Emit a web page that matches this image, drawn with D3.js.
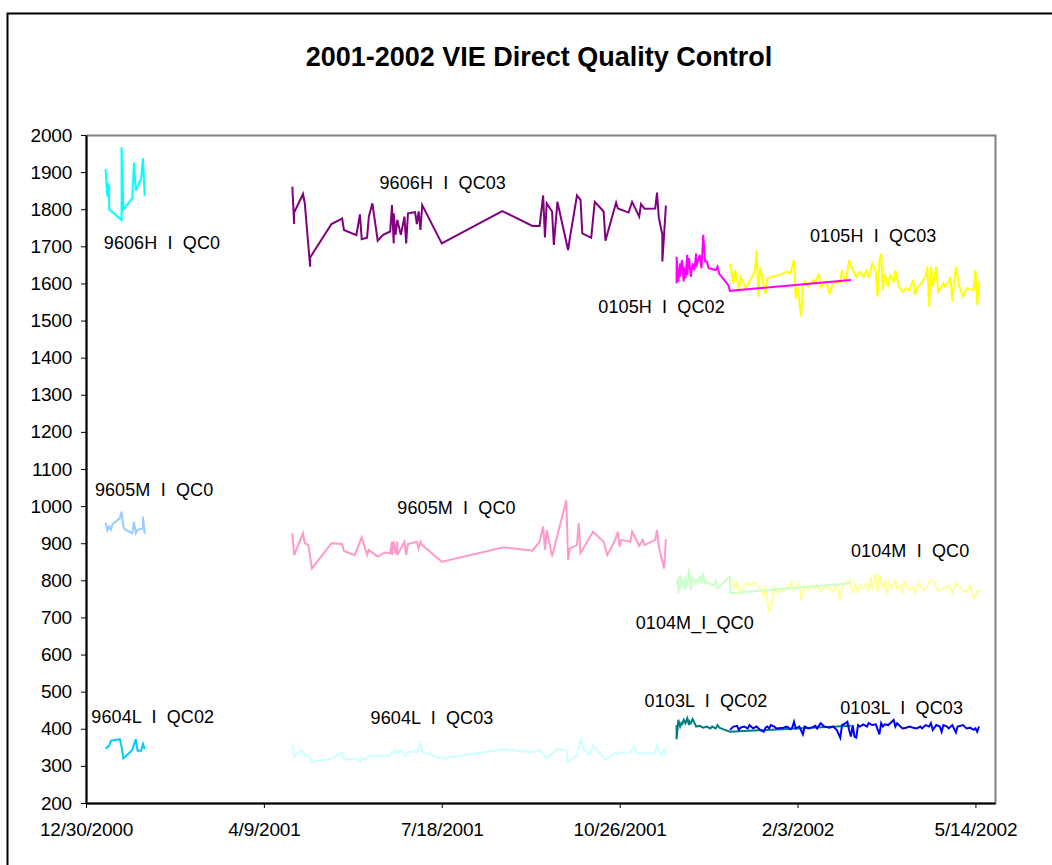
<!DOCTYPE html>
<html>
<head>
<meta charset="utf-8">
<script src="https://cdn.jsdelivr.net/npm/d3@7"></script>
<style>
    body { margin: 0; background: #fff; }
    text { font-family: "Liberation Sans", Arial, sans-serif; }
</style>
</head>
<body>
<div class="qcchart"></div>
<script>
// days counted from 12/30/2000 (first x tick)
const startDate = new Date(2000, 11, 30);
const tickDays = [0, 100, 200, 300, 400, 500];
const yTicks = d3.range(200, 2001, 100);

// high level
const h9606QC0Days = [11, 12, 12, 13, 13, 20, 20, 21, 26, 27, 28, 31, 32, 33];
const h9606QC0Values = [1908, 1834, 1871, 1861, 1800, 1771, 1967, 1800, 1829, 1926, 1850, 1883, 1937, 1836];

const h9606QC03Days = [116, 117, 117, 122, 123, 126, 126, 138, 144, 145, 152, 154, 155, 158, 159, 161, 164, 167, 171, 172,
    173, 173, 174, 175, 177, 179, 180, 181, 185, 186, 187, 188, 189, 200, 234, 251, 255, 257, 258, 259,
    262, 263, 265, 271, 272, 276, 278, 279, 284, 286, 291, 292, 298, 299, 305, 307, 311, 312, 314, 320,
    321, 322, 324, 324, 326];
const h9606QC03Values = [1861, 1760, 1791, 1841, 1816, 1645, 1670, 1760, 1775, 1744, 1730, 1786, 1719, 1723, 1780, 1816, 1715, 1731, 1740, 1811,
    1708, 1789, 1731, 1771, 1731, 1780, 1708, 1789, 1792, 1760, 1794, 1744, 1811, 1708, 1795, 1755, 1755, 1837, 1724, 1816,
    1794, 1704, 1820, 1690, 1722, 1837, 1825, 1735, 1723, 1820, 1794, 1715, 1818, 1802, 1791, 1820, 1780, 1814, 1801, 1802,
    1845, 1778, 1731, 1659, 1810];

const h0105QC02Days = [332, 332, 333, 334, 334, 335, 336, 336, 337, 338, 338, 339, 340, 341, 342, 343, 343, 345, 346, 347,
    348, 349, 350, 354, 355, 356, 361, 362, 430];
const h0105QC02Values = [1600, 1672, 1605, 1654, 1618, 1663, 1605, 1645, 1614, 1677, 1623, 1668, 1618, 1654, 1636, 1681, 1645, 1677, 1641, 1731,
    1659, 1659, 1641, 1636, 1645, 1626, 1596, 1580, 1609];

const h0105QC03Days = [362, 364, 365, 367, 368, 371, 376, 377, 378, 379, 381, 382, 383, 385, 390, 394, 396, 398, 399, 400,
    402, 403, 404, 406, 409, 410, 412, 413, 416, 418, 420, 424, 425, 427, 429, 431, 433, 435, 437, 439,
    440, 442, 444, 445, 446, 447, 448, 449, 451, 452, 454, 455, 457, 459, 461, 463, 465, 466, 467, 468,
    470, 472, 473, 474, 475, 476, 478, 479, 481, 482, 483, 485, 486, 487, 489, 491, 493, 495, 499, 500,
    501, 502];
const h0105QC03Values = [1654, 1600, 1636, 1582, 1618, 1587, 1632, 1690, 1564, 1645, 1596, 1573, 1614, 1617, 1623, 1632, 1627, 1663, 1560, 1591,
    1511, 1591, 1605, 1591, 1609, 1600, 1627, 1591, 1605, 1573, 1600, 1605, 1636, 1600, 1663, 1636, 1618, 1632, 1618, 1636,
    1614, 1654, 1632, 1564, 1663, 1681, 1582, 1627, 1591, 1623, 1605, 1636, 1591, 1578, 1587, 1582, 1609, 1569, 1587, 1591,
    1605, 1618, 1645, 1537, 1645, 1591, 1645, 1578, 1591, 1600, 1591, 1605, 1618, 1551, 1645, 1591, 1564, 1587, 1582, 1636,
    1542, 1605];

// medium level
const m9605LeftDays = [11, 12, 13, 14, 15, 19, 20, 21, 22, 26, 27, 28, 29, 32, 32, 33];
const m9605LeftValues = [955, 934, 945, 937, 952, 967, 985, 945, 937, 927, 958, 927, 936, 940, 972, 925];

const m9605Days = [116, 117, 122, 123, 125, 127, 138, 144, 145, 151, 155, 158, 159, 164, 168, 171, 172, 172, 173, 174,
    175, 175, 179, 180, 181, 186, 187, 188, 189, 200, 235, 251, 255, 257, 258, 259, 262, 270, 271, 272,
    276, 277, 278, 285, 291, 293, 297, 299, 300, 301, 306, 307, 311, 313, 314, 320, 321, 322, 325, 326];
const m9605Values = [927, 868, 927, 900, 895, 832, 900, 898, 879, 868, 916, 868, 882, 864, 875, 873, 904, 868, 904, 873,
    904, 868, 904, 868, 898, 904, 886, 904, 895, 850, 889, 880, 904, 945, 882, 936, 864, 1016, 855, 886,
    895, 954, 873, 931, 904, 868, 904, 931, 891, 909, 904, 931, 893, 909, 895, 909, 936, 891, 832, 911];

const m0104QC0aDays = [332, 333, 333, 334, 334, 335, 336, 336, 337, 337, 338, 339, 340, 341, 342, 343, 344, 345, 346, 347,
    348, 349, 350, 353, 354, 355, 362, 362, 430];
const m0104QC0aValues = [787, 810, 765, 814, 778, 805, 783, 801, 774, 810, 783, 832, 774, 810, 792, 801, 796, 814, 792, 819,
    792, 796, 792, 787, 799, 778, 810, 765, 792];

const m0104QC0bDays = [363, 365, 366, 368, 370, 371, 374, 376, 377, 380, 381, 382, 384, 386, 387, 389, 391, 392, 394, 396,
    397, 398, 401, 402, 404, 406, 408, 410, 411, 413, 415, 418, 420, 422, 424, 425, 426, 429, 431, 432,
    434, 435, 437, 439, 440, 441, 442, 443, 444, 445, 446, 448, 449, 450, 451, 453, 455, 456, 458, 459,
    460, 461, 463, 465, 466, 468, 470, 471, 473, 475, 477, 479, 480, 482, 485, 487, 489, 492, 495, 497,
    499, 501, 503];
const m0104QC0bValues = [805, 778, 792, 765, 783, 792, 787, 796, 787, 774, 756, 783, 713, 751, 783, 765, 778, 769, 783, 778,
    801, 774, 792, 747, 783, 774, 787, 778, 787, 769, 783, 778, 769, 787, 747, 778, 792, 801, 765, 792,
    769, 787, 778, 792, 769, 810, 774, 801, 819, 769, 814, 778, 801, 760, 796, 778, 801, 778, 787, 765,
    801, 787, 774, 783, 765, 792, 778, 774, 787, 801, 796, 769, 774, 778, 787, 765, 792, 778, 769, 787,
    751, 769, 774];

// low level
const l9604QC02Days = [11, 13, 14, 19, 20, 21, 26, 28, 29, 31, 32, 33];
const l9604QC02Values = [347, 354, 368, 372, 352, 320, 343, 372, 341, 341, 359, 345];

const l9604QC03Days = [116, 117, 121, 122, 123, 125, 127, 138, 144, 145, 151, 154, 155, 157, 159, 171, 172, 173, 174, 175,
    177, 179, 181, 186, 188, 189, 200, 235, 251, 255, 259, 262, 265, 270, 271, 276, 278, 280, 283, 285,
    292, 297, 299, 300, 306, 308, 310, 313, 320, 321, 323, 324, 325, 326];
const l9604QC03Values = [356, 325, 343, 334, 329, 329, 311, 320, 336, 316, 320, 311, 323, 316, 327, 327, 338, 334, 343, 334,
    343, 327, 338, 338, 361, 338, 320, 345, 336, 343, 320, 334, 345, 343, 311, 327, 370, 343, 329, 356,
    316, 334, 329, 336, 336, 352, 334, 334, 334, 356, 329, 334, 345, 327];

const l0103QC02Days = [332, 332, 333, 334, 335, 335, 336, 337, 338, 339, 339, 340, 341, 343, 345, 347, 349, 351, 352, 354,
    355, 356, 358, 362, 430];
const l0103QC02Values = [410, 372, 424, 406, 419, 410, 424, 415, 428, 410, 421, 415, 426, 406, 408, 403, 406, 401, 406, 401,
    410, 403, 399, 392, 408];

const l0103QC03Days = [362, 364, 366, 367, 368, 370, 372, 373, 375, 377, 379, 381, 382, 383, 384, 385, 387, 388, 392, 394,
    396, 397, 398, 399, 401, 403, 404, 406, 408, 410, 411, 413, 415, 418, 420, 422, 424, 425, 427, 428,
    429, 430, 431, 432, 433, 434, 435, 437, 439, 440, 442, 444, 446, 447, 448, 449, 451, 453, 454, 455,
    456, 457, 459, 461, 463, 465, 467, 469, 470, 472, 474, 475, 476, 478, 480, 481, 482, 484, 485, 487,
    489, 490, 493, 495, 497, 499, 500, 501, 502];
const l0103QC03Values = [397, 406, 408, 397, 403, 406, 401, 410, 401, 406, 397, 392, 403, 406, 401, 410, 406, 401, 403, 406,
    399, 403, 419, 401, 406, 385, 406, 401, 403, 408, 401, 415, 406, 403, 406, 397, 376, 410, 415, 419,
    397, 379, 410, 379, 376, 410, 406, 412, 406, 415, 410, 412, 385, 415, 406, 412, 410, 419, 424, 406,
    415, 410, 401, 403, 406, 403, 401, 406, 401, 410, 406, 415, 397, 410, 406, 392, 410, 406, 401, 410,
    390, 406, 410, 401, 403, 397, 401, 392, 406];

// series labels, placed in data units
const labelText = ["9606H  I  QC0", "9606H  I  QC03", "0105H  I  QC02", "0105H  I  QC03",
    "9605M  I  QC0", "9605M  I  QC0", "0104M_I_QC0", "0104M  I  QC0",
    "9604L  I  QC02", "9604L  I  QC03", "0103L  I  QC02", "0103L  I  QC03"];
const labelDay = [10, 165, 288, 407, 5, 175, 309, 430, 3, 160, 314, 424];
const labelValue = [1709, 1871, 1537, 1728, 1043, 995, 685, 879, 432, 429, 475, 456];

const series = [
    {days: h9606QC0Days, values: h9606QC0Values, color: "#00ffff"},
    {days: h9606QC03Days, values: h9606QC03Values, color: "#800080"},
    {days: h0105QC03Days, values: h0105QC03Values, color: "#ffff00"},
    {days: h0105QC02Days, values: h0105QC02Values, color: "#ff00ff"},
    {days: m9605LeftDays, values: m9605LeftValues, color: "#99ccff"},
    {days: m9605Days, values: m9605Values, color: "#ff99cc"},
    {days: m0104QC0bDays, values: m0104QC0bValues, color: "#ffff99"},
    {days: m0104QC0aDays, values: m0104QC0aValues, color: "#ccffcc"},
    {days: l9604QC02Days, values: l9604QC02Values, color: "#00ccff"},
    {days: l9604QC03Days, values: l9604QC03Values, color: "#ccffff"},
    {days: l0103QC02Days, values: l0103QC02Values, color: "#008080"},
    {days: l0103QC03Days, values: l0103QC03Values, color: "#0000ff"}
];

const toDate = (d) => d3.timeDay.offset(startDate, d);

const draw = () => {
    const width = 1052, height = 865;
    const margin = {top: 135, right: 57, bottom: 62, left: 86};

    const svg = d3.select('.qcchart')
        .append('svg')
        .attr('width', width)
        .attr('height', height);

    // outer chart border
    svg.append("rect")
        .attr("x", 7.5)
        .attr("y", 13.5)
        .attr("width", width + 20)
        .attr("height", height + 20)
        .attr("fill", "none")
        .attr("stroke", "#000")
        .attr("stroke-width", 2);

    svg.append("text")
        .attr("x", 539)
        .attr("y", 66)
        .attr("text-anchor", "middle")
        .attr("font-size", 27)
        .attr("font-weight", "bold")
        .text("2001-2002 VIE Direct Quality Control");

    const xScale = d3.scaleTime()
        .domain([startDate, toDate(511)])
        .range([margin.left, width - margin.right]);
    const yScale = d3.scaleLinear()
        .domain([200, 2000])
        .range([height - margin.bottom, margin.top]);

    // plot area frame
    svg.append("rect")
        .attr("x", margin.left + 0.5)
        .attr("y", margin.top + 0.5)
        .attr("width", width - margin.left - margin.right)
        .attr("height", height - margin.top - margin.bottom)
        .attr("fill", "none")
        .attr("stroke", "#808080")
        .attr("stroke-width", 2);

    //Add lines
    const line = d3.line()
        .x(function(d){ return xScale(d.date); })
        .y(function(d){ return yScale(d.value); });

    series.forEach(function(s){
        const pts = s.days.map(function(d, i){
            return {date: toDate(d), value: s.values[i]};
        });
        svg.append("path")
            .datum(pts)
            .attr("fill", "none")
            .attr("stroke", s.color)
            .attr("stroke-width", 2)
            .attr("d", line);
    });

    //Add X axis
    const xAxis = svg.append("g")
        .attr("transform", "translate(0," + (height - margin.bottom) + ")")
        .call(d3.axisBottom(xScale)
            .tickValues(tickDays.map(toDate))
            .tickFormat(d3.timeFormat("%-m/%-d/%Y"))
            .tickSize(5)
            .tickSizeOuter(0)
            .tickPadding(15));

    //Add Y axis
    const yAxis = svg.append("g")
        .attr("transform", "translate(" + margin.left + ",0)")
        .call(d3.axisLeft(yScale)
            .tickValues(yTicks)
            .tickFormat(d3.format("d"))
            .tickSize(5)
            .tickSizeOuter(0)
            .tickPadding(9));

    [xAxis, yAxis].forEach(function(ax){
        ax.select(".domain").attr("stroke", "#000").attr("stroke-width", 2);
        ax.selectAll(".tick line").attr("stroke", "#000");
        ax.selectAll("text")
            .attr("font-size", 19)
            .attr("font-family", "Liberation Sans, Arial, sans-serif")
            .attr("letter-spacing", -0.2)
            .attr("fill", "#000");
    });

    svg.selectAll(".series-label")
        .data(labelText)
        .enter()
        .append("text")
        .attr("class", "series-label")
        .attr("x", function(d, i){ return xScale(toDate(labelDay[i])); })
        .attr("y", function(d, i){ return yScale(labelValue[i]); })
        .attr("dy", "0.35em")
        .attr("font-size", 18)
        .attr("letter-spacing", 0.1)
        .attr("fill", "#000")
        .style("white-space", "pre")
        .text(function(d){ return d; });
};

draw();
</script>
</body>
</html>
